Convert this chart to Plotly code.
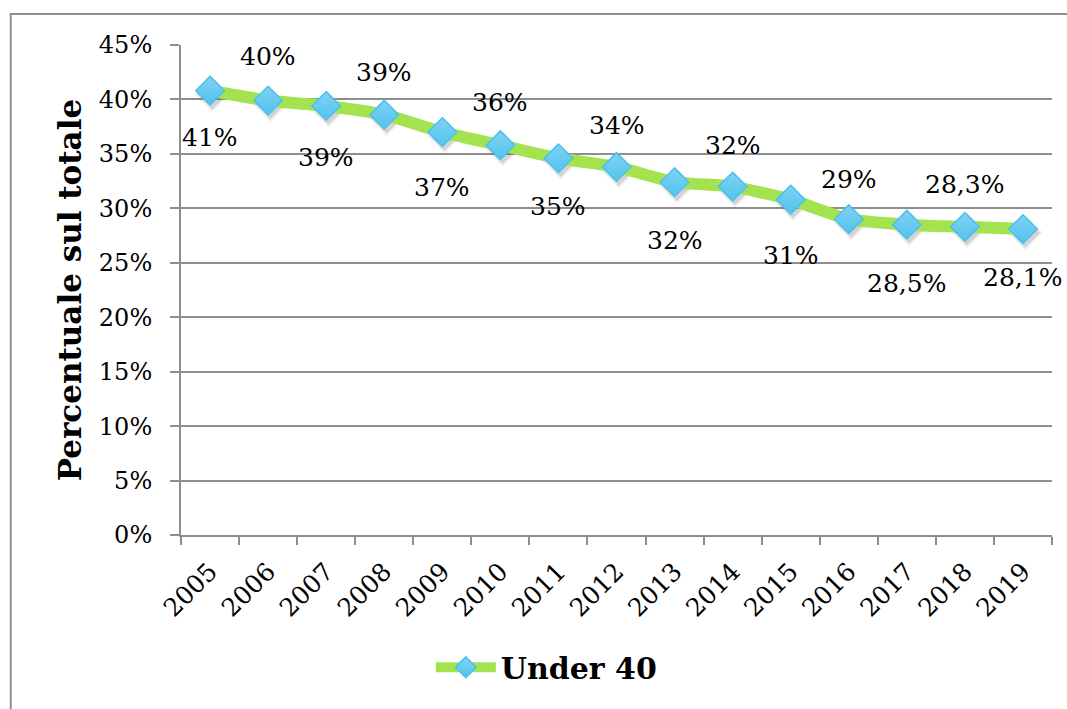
import plotly.graph_objects as go

# Share of the total held by the under-40 group, by year
years = ["2005", "2006", "2007", "2008", "2009", "2010", "2011", "2012",
         "2013", "2014", "2015", "2016", "2017", "2018", "2019"]
under_40 = [0.408, 0.399, 0.394, 0.386, 0.370, 0.358, 0.346, 0.338,
            0.324, 0.320, 0.308, 0.290, 0.285, 0.283, 0.281]
label_decimals = [0, 0, 0, 0, 0, 0, 0, 0, 0, 0, 0, 0, 1, 1, 1]
y_ticks = [0, 0.05, 0.10, 0.15, 0.20, 0.25, 0.30, 0.35, 0.40, 0.45]
y_tick_text = ["0%", "5%", "10%", "15%", "20%", "25%", "30%", "35%", "40%", "45%"]

# vertical offset (px) of each value label from its marker
label_shift = [-47, 44, -52, 42, -55, 43, -48, 41, -58, 41, -56, 40, -59, 42, -48]

SERIF = "DejaVu Serif"
GRID = "#8e8e8e"
GREEN = "#a4e34f"
BLUE = "#7fd2f4"
BLUE_EDGE = "#4cc0ec"

X_RANGE = [-0.5, len(years) - 0.5]
Y_RANGE = [0, 0.45]
# the marker shadow sits a few pixels right and below the markers
SHADOW_DX = 0.04
SHADOW_DY = 0.0035


def fmt(v, d):
    s = f"{v * 100:.{d}f}%"
    return s.replace(".", ",")


fig = go.Figure()

# base axes carry grid and ticks; an invisible trace keeps them populated
fig.add_trace(go.Scatter(x=years, y=under_40, mode="none", showlegend=False,
                         hoverinfo="skip"))

# soft drop shadow under each diamond (two layers for a blurred edge)
for size, alpha in ((27, 0.08), (23, 0.16)):
    fig.add_trace(go.Scatter(
        x=years, y=under_40, xaxis="x2", yaxis="y2", mode="markers",
        showlegend=False, hoverinfo="skip",
        marker=dict(symbol="diamond", size=size,
                    color=f"rgba(60,60,60,{alpha})", line=dict(width=0)),
    ))

fig.add_trace(go.Scatter(
    x=years, y=under_40, xaxis="x3", yaxis="y3", name="Under 40",
    mode="lines+markers",
    line=dict(color=GREEN, width=12, shape="spline", smoothing=0.6),
    marker=dict(symbol="diamond", size=22, color=BLUE,
                gradient=dict(type="vertical", color="#52c3ee"),
                line=dict(color=BLUE_EDGE, width=1.5)),
    hoverinfo="skip",
))

for i, (v, d, sh) in enumerate(zip(under_40, label_decimals, label_shift)):
    fig.add_annotation(x=i, y=v, xref="x", yref="y", text=fmt(v, d),
                       showarrow=False, yshift=sh,
                       font=dict(family=SERIF, size=25, color="#000000"))

# outer chart frame
fig.add_shape(type="rect", xref="paper", yref="paper",
              x0=-0.1955, x1=1.05, y0=-0.45, y1=1.0633,
              line=dict(color=GRID, width=2), fillcolor="rgba(0,0,0,0)",
              layer="below")

hidden = dict(visible=False, fixedrange=True)

fig.update_layout(
    width=1067, height=709,
    margin=dict(l=181, r=15, t=45, b=174),
    paper_bgcolor="white", plot_bgcolor="white",
    font=dict(family=SERIF, color="#000000"),
    showlegend=True,
    legend=dict(orientation="h", x=0.42, xanchor="center", y=-0.27,
                yanchor="middle", itemwidth=60,
                font=dict(family=SERIF, size=30, color="#000000",
                          weight="bold"),
                bgcolor="rgba(0,0,0,0)"),
    xaxis=dict(type="category", range=X_RANGE, tickson="boundaries",
               ticks="outside", ticklen=8, tickcolor=GRID, tickwidth=2,
               showline=True, linecolor=GRID, linewidth=2, showgrid=False,
               tickangle=-45, ticklabelstandoff=10,
               tickfont=dict(family=SERIF, size=25)),
    yaxis=dict(range=Y_RANGE, tickvals=y_ticks, ticktext=y_tick_text,
               ticks="outside", ticklen=9, tickcolor=GRID, tickwidth=2,
               showline=True, linecolor=GRID, linewidth=2,
               showgrid=True, gridcolor=GRID, gridwidth=2, zeroline=False,
               ticklabelstandoff=13,
               tickfont=dict(family=SERIF, size=24),
               title=dict(text="<b>Percentuale sul totale</b>",
                          font=dict(family=SERIF, size=31), standoff=8)),
    xaxis2=dict(type="category", overlaying="x",
                range=[X_RANGE[0] - SHADOW_DX, X_RANGE[1] - SHADOW_DX], **hidden),
    yaxis2=dict(overlaying="y",
                range=[Y_RANGE[0] + SHADOW_DY, Y_RANGE[1] + SHADOW_DY], **hidden),
    xaxis3=dict(type="category", overlaying="x", range=X_RANGE, **hidden),
    yaxis3=dict(overlaying="y", range=Y_RANGE, **hidden),
)

fig.write_html("out.html")
